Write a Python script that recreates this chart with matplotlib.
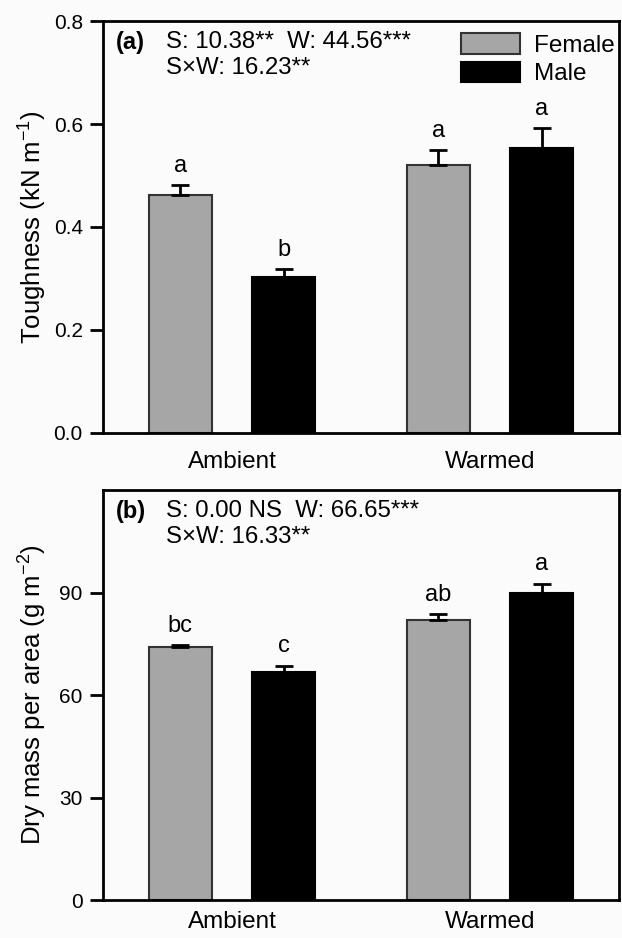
import numpy as np
import matplotlib
matplotlib.use("Agg")
import matplotlib.pyplot as plt
from matplotlib.patches import Patch

plt.rcParams['font.family'] = ['Liberation Sans', 'DejaVu Sans']
plt.rcParams['mathtext.fontset'] = 'custom'
plt.rcParams['mathtext.rm'] = 'Liberation Sans'
plt.rcParams['mathtext.it'] = 'Liberation Sans:italic'
plt.rcParams['mathtext.bf'] = 'Liberation Sans:bold'

# data
treatments = ["Ambient", "Warmed"]
sexes = ["Female", "Male"]

tough_female = [0.462, 0.520]
tough_female_se = [0.020, 0.029]
tough_male = [0.303, 0.553]
tough_male_se = [0.015, 0.039]
tough_letters_f = ["a", "a"]
tough_letters_m = ["b", "a"]

lma_female = [74.1, 81.9]
lma_female_se = [0.4, 1.7]
lma_male = [66.6, 90.0]
lma_male_se = [2.0, 2.6]
lma_letters_f = ["bc", "ab"]
lma_letters_m = ["c", "a"]

stats_a = ["S: 10.38**  W: 44.56***", "S\u00d7W: 16.23**"]
stats_b = ["S: 0.00 NS  W: 66.65***", "S\u00d7W: 16.33**"]

bar_colors = ["#a6a6a6", "#000000"]
edge_colors = ["#333333", "#000000"]

fig = plt.figure(figsize=(6.22, 9.38), dpi=100)
fig.patch.set_facecolor("#fbfbfb")
ax_a = fig.add_axes([0.1656, 0.5384, 0.8296, 0.4392])
ax_b = fig.add_axes([0.1656, 0.0405, 0.8296, 0.4371])

x = np.arange(len(treatments))
width = 0.242
offset = 0.2


def draw_panel(ax, fem, fem_se, mal, mal_se, let_f, let_m, ylim, yticks, ylabel, tag, stats, xpad):
    ax.set_facecolor("#fbfbfb")
    series = [(fem, fem_se, let_f), (mal, mal_se, let_m)]
    for i, (vals, se, letters) in enumerate(series):
        xpos = x + (i * 2 - 1) * offset
        ax.bar(xpos, vals, width, color=bar_colors[i], edgecolor=edge_colors[i],
               linewidth=1.5, zorder=2, label=sexes[i])
        ax.errorbar(xpos, vals, yerr=[np.zeros(len(se)), se], fmt="none",
                    ecolor="black", elinewidth=2, capsize=6.5, capthick=2, zorder=3)
        for xx, v, s, t in zip(xpos, vals, se, letters):
            ax.annotate(t, (xx, v + s), xytext=(0, 9.5), textcoords="offset points",
                        ha="center", va="baseline", fontsize=17)
    ax.set_xlim(-0.5, 1.5)
    ax.set_ylim(*ylim)
    ax.set_yticks(yticks)
    ax.set_xticks(x)
    ax.set_xticklabels(treatments, fontsize=17.5)
    ax.tick_params(axis="x", length=0, pad=xpad)
    ax.tick_params(axis="y", direction="out", length=9.5, width=2, labelsize=15, pad=5)
    for sp in ax.spines.values():
        sp.set_linewidth(2)
    ax.set_ylabel(ylabel, fontsize=18.5)
    ax.yaxis.set_label_coords(-0.105, 0.5)
    ax.text(0.025, 0.975, tag, transform=ax.transAxes, fontsize=17,
            fontweight="bold", va="top", ha="left")
    ax.text(0.122, 0.975, stats[0] + "\n" + stats[1], transform=ax.transAxes,
            fontsize=17.3, va="top", ha="left", linespacing=1.2)


draw_panel(ax_a, tough_female, tough_female_se, tough_male, tough_male_se,
           tough_letters_f, tough_letters_m, (0, 0.8), [0.0, 0.2, 0.4, 0.6, 0.8],
           "Toughness (kN m$^{-1}$)", "(a)", stats_a, 13)
ax_a.yaxis.set_major_formatter(matplotlib.ticker.FormatStrFormatter("%.1f"))

draw_panel(ax_b, lma_female, lma_female_se, lma_male, lma_male_se,
           lma_letters_f, lma_letters_m, (0, 120), [0, 30, 60, 90],
           "Dry mass per area (g m$^{-2}$)", "(b)", stats_b, 8)

handles = [Patch(facecolor=bar_colors[i], edgecolor=edge_colors[i], linewidth=1.5)
           for i in range(2)]
ax_a.legend(handles, sexes, loc="upper right", bbox_to_anchor=(0.992, 0.97),
            frameon=False, fontsize=17.5, handlelength=2.4, handleheight=0.9,
            handletextpad=0.6, labelspacing=0.2, borderpad=0, borderaxespad=0)

fig.savefig("out.png", dpi=100, facecolor=fig.get_facecolor())
